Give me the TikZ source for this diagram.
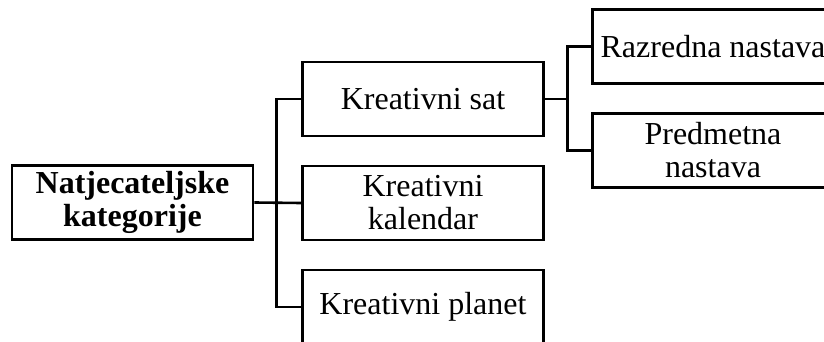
\documentclass[tikz,border=0pt]{standalone}
\usepackage{fontspec}
\setmainfont{Liberation Serif}
\begin{document}
\begin{tikzpicture}[x=1pt,y=1pt,
  box/.style={draw, line width=2.6pt, minimum width=241pt, minimum height=74pt, inner sep=0pt, align=center, font=\fontsize{32}{33}\selectfont},
  link/.style={line width=2.6pt}]
\clip (0,0) rectangle (824,-342);
\node[box, font=\fontsize{32}{33}\selectfont\bfseries] (main) at (132.5,-202.5) {Natjecateljske\\kategorije};
\node[box] (sat) at (423,-99) {Kreativni sat};
\node[box] (kal) at (423,-203) {Kreativni\\kalendar};
\node[box] (pla) at (423,-307) {Kreativni planet};
\node[box] (raz) at (713,-46.5) {Razredna nastava};
\node[box] (pre) at (713,-150.5) {Predmetna\\nastava};
\draw[link] (main.east) -- (kal.west);
\draw[link] (sat.west) -- ++(-25,0) |- (pla.west);
\draw[link] (sat.east) -- ++(24,0);
\draw[link] (raz.west) -- ++(-24,0) |- (pre.west);
\end{tikzpicture}
\end{document}
